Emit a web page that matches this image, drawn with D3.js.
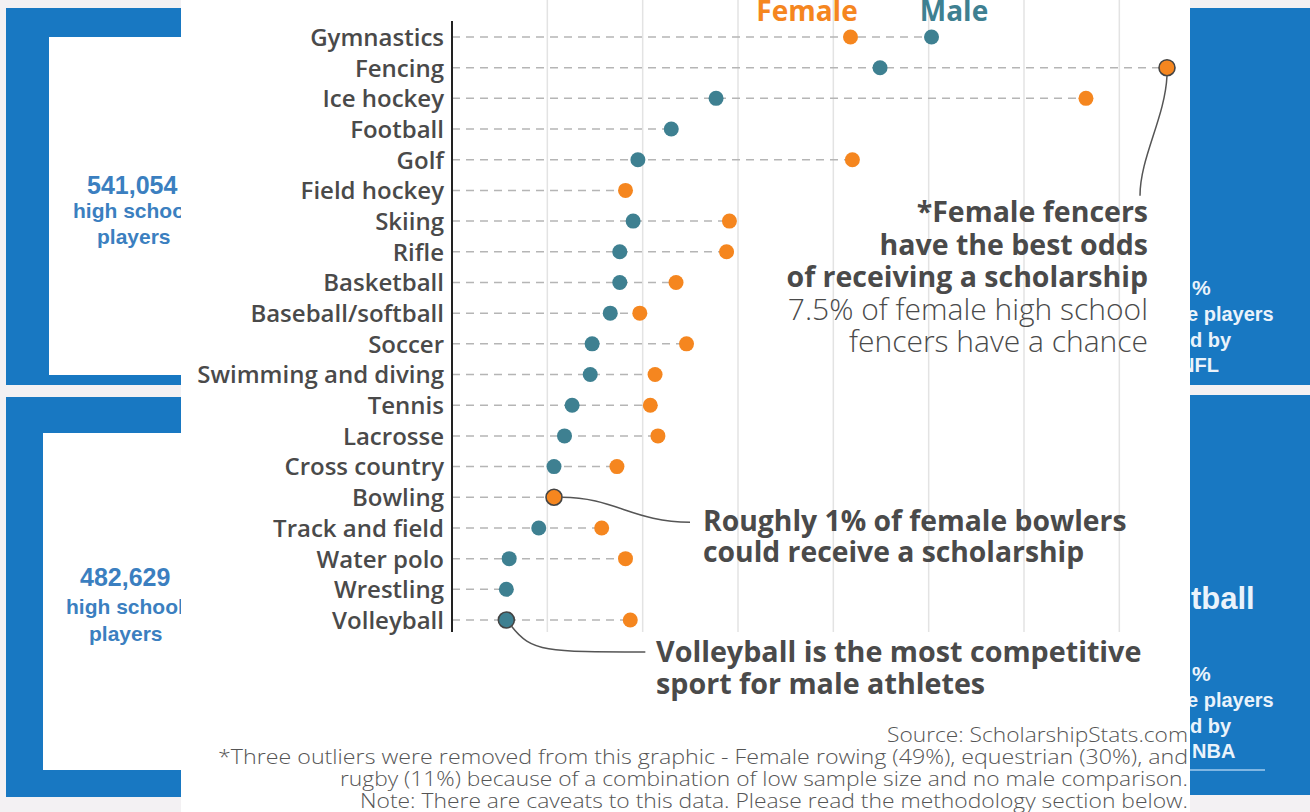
<!DOCTYPE html>
<html>
<head>
<meta charset="utf-8">
<script src="https://cdn.jsdelivr.net/npm/d3@7"></script>
<style>
  body { margin: 0; background: #f3f1f3; }
  svg { display: block; }
</style>
</head>
<body>
<svg id="chart" width="1310" height="812"></svg>
<script>
// データ
const sports = ["Gymnastics", "Fencing", "Ice hockey", "Football", "Golf", "Field hockey",
  "Skiing", "Rifle", "Basketball", "Baseball/softball", "Soccer", "Swimming and diving",
  "Tennis", "Lacrosse", "Cross country", "Bowling", "Track and field", "Water polo",
  "Wrestling", "Volleyball"];
// 奨学金を受けられる割合 (%)
const female = [4.18, 7.5, 6.65, null, 4.2, 1.82, 2.91, 2.88, 2.35, 1.97, 2.46, 2.13,
  2.08, 2.16, 1.73, 1.07, 1.57, 1.82, null, 1.87];
const male = [5.03, 4.49, 2.77, 2.3, 1.95, null, 1.9, 1.76, 1.76, 1.66, 1.47, 1.45,
  1.26, 1.18, 1.07, null, 0.91, 0.6, 0.57, 0.57];
const gridTicks = [1, 2, 3, 4, 5, 6, 7];

const FEMALE = "#f5861f", MALE = "#3e8091", INK = "#4a4a4a";

const svg = d3.select("#chart");

// 背景のパネル(青い箱)
const bg = svg.append("g");
bg.append("rect").attr("x", 0).attr("y", 0).attr("width", 1310).attr("height", 812).attr("fill", "#f3f1f3");
[[6, 8, 377], [6, 397, 400]].forEach(([x, y, h]) => {
  bg.append("rect").attr("x", x).attr("y", y).attr("width", 200).attr("height", h).attr("fill", "#1878c2");
});
bg.append("rect").attr("x", 49).attr("y", 37).attr("width", 150).attr("height", 338).attr("fill", "#fff");
bg.append("rect").attr("x", 43).attr("y", 433).attr("width", 150).attr("height", 337).attr("fill", "#fff");
bg.append("rect").attr("x", 1185).attr("y", 8).attr("width", 125).attr("height", 377).attr("fill", "#1878c2");
bg.append("rect").attr("x", 1185).attr("y", 395).attr("width", 125).attr("height", 400).attr("fill", "#1878c2");

const leftTxt = [
  ["541,054", 87, 194, 25], ["high school", 73, 218, 21], ["players", 97, 244, 21],
  ["482,629", 80, 586, 25], ["high school", 66, 614, 21], ["players", 89, 641, 21]
];
leftTxt.forEach(([t, x, y, s]) => {
  bg.append("text").attr("x", x).attr("y", y).text(t)
    .attr("font-family", "Liberation Sans, Arial").attr("font-weight", 700)
    .attr("font-size", s).attr("fill", "#3b7fc0");
});
const rightTxt = [
  ["%", 1192, 295, 21], ["e players", 1187, 321, 20], ["d by", 1190, 347, 20],
  ["NFL", 1180, 372, 20], ["tball", 1191, 609, 31], ["%", 1192, 681, 21],
  ["e players", 1187, 707, 20], ["d by", 1190, 733, 20], ["NBA", 1192, 758, 20]
];
rightTxt.forEach(([t, x, y, s]) => {
  bg.append("text").attr("x", x).attr("y", y).text(t)
    .attr("font-family", "Liberation Sans, Arial").attr("font-weight", 700)
    .attr("font-size", s).attr("fill", "#eaf3fb");
});
bg.append("line").attr("x1", 1185).attr("x2", 1265).attr("y1", 770).attr("y2", 770)
  .attr("stroke", "#7fb6e3").attr("stroke-width", 2);

// 白いパネル
svg.append("rect").attr("x", 181).attr("y", 0).attr("width", 1009).attr("height", 812).attr("fill", "#fff");

// スケール
const x = d3.scaleLinear().domain([0, 7.5]).range([452, 1167]);
const y = d3.scalePoint().domain(sports).range([37, 620]);

// 縦のグリッド線
svg.append("g").selectAll("line").data(gridTicks).enter().append("line")
  .attr("x1", (d) => x(d)).attr("x2", (d) => x(d))
  .attr("y1", 0).attr("y2", 632)
  .attr("stroke", "#e3e3e3").attr("stroke-width", 1.5);

// 点線(行ごとの最大値まで)
const rows = sports.map((s, i) => ({ sport: s, f: female[i], m: male[i] }));
svg.append("g").selectAll("line").data(rows).enter().append("line")
  .attr("x1", x(0)).attr("x2", (d) => x(d3.max([d.f, d.m])))
  .attr("y1", (d) => y(d.sport)).attr("y2", (d) => y(d.sport))
  .attr("stroke", "#b5b5b5").attr("stroke-width", 1.5).attr("stroke-dasharray", "8,6");

// y軸
const yAxis = svg.append("g").attr("transform", `translate(${x(0)},0)`)
  .call(d3.axisLeft(y).tickSize(0).tickPadding(8));
yAxis.select(".domain").remove();
yAxis.selectAll("text").attr("font-family", "Open Sans").attr("font-weight", 600)
  .attr("font-size", 24).attr("fill", INK).attr("dy", "0.35em");
svg.append("line").attr("x1", x(0)).attr("x2", x(0)).attr("y1", 21).attr("y2", 632)
  .attr("stroke", "#222").attr("stroke-width", 2);

// 点
const highlight = { "Fencing": "f", "Bowling": "f", "Volleyball": "m" };
const dots = svg.append("g");
[["m", MALE], ["f", FEMALE]].forEach(([k, c]) => {
  dots.selectAll(`circle.${k}`).data(rows.filter((d) => d[k] != null)).enter().append("circle")
    .attr("class", k)
    .attr("cx", (d) => x(d[k])).attr("cy", (d) => y(d.sport))
    .attr("r", (d) => highlight[d.sport] === k ? 8 : 7.5)
    .attr("fill", c)
    .attr("stroke", (d) => highlight[d.sport] === k ? "#444" : "none")
    .attr("stroke-width", 1.6);
});

// 凡例
svg.append("text").attr("x", 807).attr("y", 21).attr("text-anchor", "middle").text("Female")
  .attr("font-family", "Open Sans").attr("font-weight", 700).attr("font-size", 28).attr("fill", FEMALE);
svg.append("text").attr("x", 954).attr("y", 21).attr("text-anchor", "middle").text("Male")
  .attr("font-family", "Open Sans").attr("font-weight", 700).attr("font-size", 28).attr("fill", MALE);

// 注釈
const ann = svg.append("g").attr("fill", INK).attr("font-family", "Open Sans");
const fx = x(7.5), fy = y("Fencing");
const bx = x(1.07), by = y("Bowling");
const vx = x(0.57), vy = y("Volleyball");
ann.append("path")
  .attr("d", `M${fx},${fy + 8} C${fx - 2},${fy + 50} ${fx - 27},${fy + 90} ${fx - 27},${fy + 128}`)
  .attr("fill", "none").attr("stroke", "#555").attr("stroke-width", 1.5);
ann.append("path")
  .attr("d", `M${bx + 8},${by} C${bx + 60},${by} ${bx + 80},${by + 25} ${bx + 136},${by + 25}`)
  .attr("fill", "none").attr("stroke", "#555").attr("stroke-width", 1.5);
ann.append("path")
  .attr("d", `M${vx + 5},${vy + 6} C${vx + 25},${vy + 32} ${vx + 40},${vy + 32} ${vx + 139},${vy + 32}`)
  .attr("fill", "none").attr("stroke", "#555").attr("stroke-width", 1.5);

const fencLines = [["*Female fencers", 700, 28.5], ["have the best odds", 700, 28.5],
  ["of receiving a scholarship", 700, 28.5], ["7.5% of female high school", 300, 30],
  ["fencers have a chance", 300, 30]];
fencLines.forEach(([t, w, s], i) => {
  ann.append("text").attr("x", 1148).attr("y", 222 + i * 32.5).attr("text-anchor", "end")
    .attr("font-weight", w).attr("font-size", s).text(t);
});
[["Roughly 1% of female bowlers", 531], ["could receive a scholarship", 562]].forEach(([t, yy]) => {
  ann.append("text").attr("x", 703).attr("y", yy).attr("font-weight", 700).attr("font-size", 28.3).text(t);
});
[["Volleyball is the most competitive", 662], ["sport for male athletes", 694]].forEach(([t, yy]) => {
  ann.append("text").attr("x", 656).attr("y", yy).attr("font-weight", 700).attr("font-size", 28.7).text(t);
});

// 出典・注記
const notes = ["Source: ScholarshipStats.com",
  "*Three outliers were removed from this graphic - Female rowing (49%), equestrian (30%), and",
  "rugby (11%) because of a combination of low sample size and no male comparison.",
  "Note: There are caveats to this data. Please read the methodology section below."];
const noteWidths = [301, 970, 848, 828];
notes.forEach((t, i) => {
  svg.append("text").attr("x", 1188).attr("y", 742 + i * 22).attr("text-anchor", "end")
    .attr("font-family", "Open Sans").attr("font-weight", 300).attr("font-size", 20.5)
    .attr("textLength", noteWidths[i]).attr("lengthAdjust", "spacingAndGlyphs")
    .attr("fill", "#555").text(t);
});
</script>
</body>
</html>
